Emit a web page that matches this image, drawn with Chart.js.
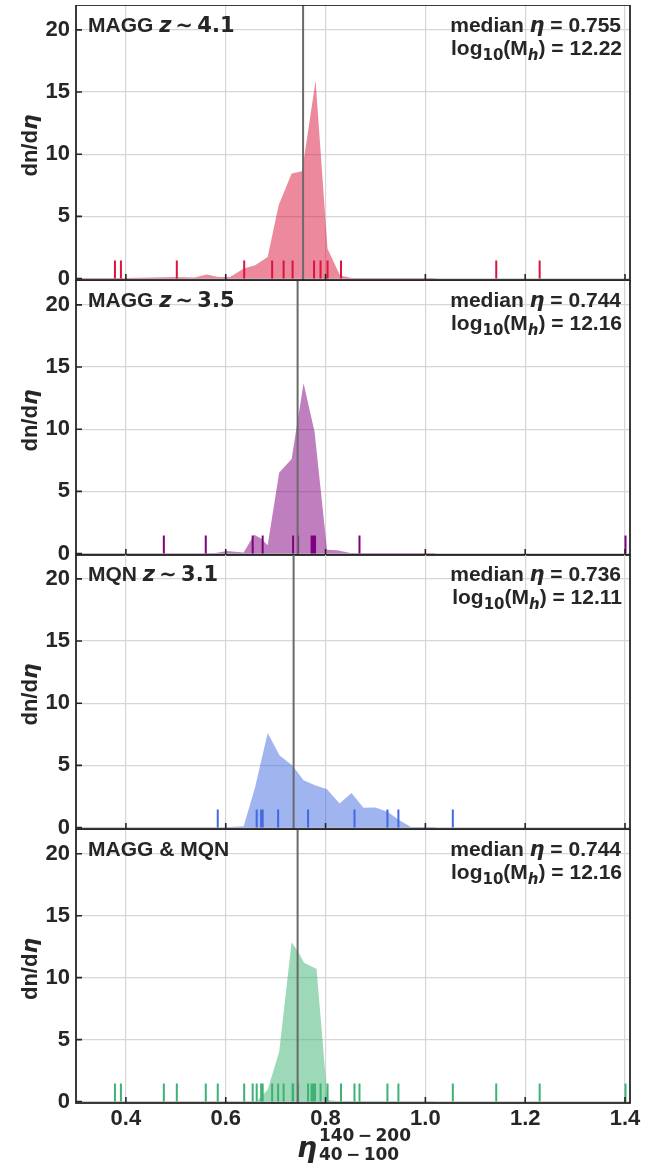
<!DOCTYPE html>
<html>
<head>
<meta charset="utf-8">
<script src="https://cdn.jsdelivr.net/npm/chart.js@4.4.0/dist/chart.umd.min.js"></script>
<style>
  body { margin: 0; background: #fff; }
  #wrap { position: relative; width: 658px; height: 1167px; }
  canvas { position: absolute; left: 0; }
</style>
</head>
<body>
<div id="wrap">
  <canvas id="p0" width="658" height="290" style="top:5px"></canvas>
  <canvas id="p1" width="658" height="290" style="top:280px"></canvas>
  <canvas id="p2" width="658" height="290" style="top:554px"></canvas>
  <canvas id="p3" width="658" height="338" style="top:829px"></canvas>
</div>
<script>
// axes
const xTicks = [0.4, 0.6, 0.8, 1.0, 1.2, 1.4];
const yTicks = [0, 5, 10, 15, 20];
const xMin = 0.3, xMax = 1.41, yMin = -0.12, yMax = 22;
const rugHeight = 1.45;

// panel labels
const sampleNames = ['MAGG', 'MAGG', 'MQN', 'MAGG & MQN'];
const redshifts = ['4.1', '3.5', '3.1', null];
const medians = [0.755, 0.744, 0.736, 0.744];
const haloMasses = ['12.22', '12.16', '12.11', '12.16'];

// density curves
const kdeMaggHiX = [0.30, 0.40, 0.45, 0.50, 0.538, 0.562, 0.585, 0.609, 0.636, 0.659, 0.684, 0.706, 0.732, 0.753, 0.780, 0.804, 0.829, 0.853, 1.02, 1.021];
const kdeMaggHiY = [0.05, 0.05, 0.08, 0.12, 0.08, 0.32, 0.13, 0.13, 0.8, 1.07, 1.74, 5.9, 8.44, 8.63, 15.9, 2.4, 0.25, 0.05, 0.05, 0];
const kdeMaggLoX = [0.30, 0.55, 0.58, 0.602, 0.636, 0.657, 0.671, 0.684, 0.707, 0.732, 0.756, 0.778, 0.803, 0.823, 0.85, 1.02, 1.021];
const kdeMaggLoY = [0.02, 0.02, 0.05, 0.2, 0.08, 1.5, 1.2, 0.67, 6.5, 7.6, 13.7, 9.8, 0.3, 0.27, 0.05, 0.05, 0];
const kdeMqnX = [0.30, 0.60, 0.636, 0.659, 0.684, 0.708, 0.733, 0.756, 0.780, 0.803, 0.828, 0.852, 0.876, 0.900, 0.924, 0.948, 0.971, 1.02, 1.021];
const kdeMqnY = [0.02, 0.03, 0.1, 3.26, 7.6, 5.8, 5.0, 3.8, 3.37, 3.07, 1.93, 2.78, 1.58, 1.6, 1.26, 0.59, 0.05, 0.05, 0];
const kdeAllX = [0.30, 0.60, 0.662, 0.684, 0.707, 0.732, 0.745, 0.757, 0.782, 0.804, 0.823, 1.02, 1.021];
const kdeAllY = [0.02, 0.03, 0.02, 0.94, 4.0, 12.85, 12.1, 11.2, 10.7, 0.12, 0.05, 0.03, 0];

// individual eta values (rug)
const rugMaggHi = [0.378, 0.390, 0.502, 0.637, 0.693, 0.716, 0.734, 0.777, 0.790, 0.804, 0.831, 1.142, 1.229];
const rugMaggLo = [0.476, 0.560, 0.654, 0.674, 0.735, 0.745, 0.772, 0.774, 0.776, 0.779, 0.868, 1.401];
const rugMqn = [0.584, 0.662, 0.671, 0.674, 0.705, 0.765, 0.858, 0.924, 0.946, 1.055];
const rugAll = rugMaggHi.concat(rugMaggLo, rugMqn);

const kdeX = [kdeMaggHiX, kdeMaggLoX, kdeMqnX, kdeAllX];
const kdeY = [kdeMaggHiY, kdeMaggLoY, kdeMqnY, kdeAllY];
const rugs = [rugMaggHi, rugMaggLo, rugMqn, rugAll];

// styles
const rugColors = ['#dc143c', '#800080', '#4169e1', '#3cb371'];
const fillColors = ['rgba(220,20,60,0.5)', 'rgba(128,0,128,0.5)', 'rgba(65,105,225,0.5)', 'rgba(60,179,113,0.5)'];
const ink = '#262626';
const gridColor = '#d6d6d6';
const SANS = '"Liberation Sans", Arial, sans-serif';
const MATH = '"DejaVu Sans", sans-serif';
const fs = 21;     // annotation text
const tickFs = 22; // tick labels

function drawRuns(ctx, runs, x, y, align) {
  let total = 0;
  runs.forEach(r => { ctx.font = r.font; r.w = ctx.measureText(r.text).width; total += r.w; });
  let cx = align === 'right' ? x - total : align === 'center' ? x - total / 2 : x;
  ctx.textBaseline = 'alphabetic';
  ctx.textAlign = 'left';
  runs.forEach(r => {
    ctx.font = r.font;
    ctx.fillText(r.text, cx, y + (r.dy || 0));
    cx += r.w;
  });
}

const decor = {
  id: 'decor',
  afterDraw(chart, args, opts) {
    const ctx = chart.ctx;
    const a = chart.chartArea;
    const xs = chart.scales.x, ys = chart.scales.y;
    const i = opts.panel;
    ctx.save();
    // inward tick marks
    ctx.strokeStyle = ink;
    ctx.lineWidth = 1.6;
    ctx.beginPath();
    xTicks.forEach(v => {
      const px = xs.getPixelForValue(v);
      ctx.moveTo(px, a.bottom); ctx.lineTo(px, a.bottom - 6);
    });
    yTicks.forEach(v => {
      const py = ys.getPixelForValue(v);
      ctx.moveTo(a.left, py); ctx.lineTo(a.left + 6, py);
    });
    ctx.stroke();
    // frame
    ctx.lineWidth = 1.8;
    ctx.strokeRect(a.left, a.top, a.right - a.left, a.bottom - a.top);

    ctx.fillStyle = ink;
    const tf = 'bold ' + fs + 'px ' + SANS;
    const mf = 'bold ' + fs + 'px ' + MATH;
    const mi = 'italic bold ' + fs + 'px ' + MATH;
    const small = 'bold 15px ' + MATH;
    const smallIt = 'italic bold 15px ' + MATH;
    // sample label
    const left = [{ text: sampleNames[i] + (redshifts[i] ? ' ' : ''), font: tf }];
    if (redshifts[i]) {
      left.push({ text: 'z', font: mi }, { text: '\u2009\u223c\u2009', font: mf }, { text: redshifts[i], font: mf });
    }
    drawRuns(ctx, left, a.left + 12, a.top + 27, 'left');
    // median / halo mass
    drawRuns(ctx, [
      { text: 'median ', font: tf }, { text: '\u03b7', font: mi },
      { text: ' = ' + medians[i].toFixed(3), font: tf }
    ], a.right - 9, a.top + 27, 'right');
    drawRuns(ctx, [
      { text: 'log', font: tf }, { text: '10', font: small, dy: 5 },
      { text: '(M', font: tf }, { text: 'h', font: smallIt, dy: 5 },
      { text: ') = ' + haloMasses[i], font: tf }
    ], a.right - 8, a.top + 50, 'right');
    // y title
    ctx.save();
    ctx.translate(29, (a.top + a.bottom) / 2 + 3);
    ctx.rotate(-Math.PI / 2);
    const yf = 'bold ' + tickFs + 'px ' + SANS;
    const yi = 'italic bold ' + tickFs + 'px ' + MATH;
    drawRuns(ctx, [{ text: 'dn/d', font: yf }, { text: '\u03b7', font: yi }], 0, 8, 'center');
    ctx.restore();
    // x title on the last panel
    if (opts.bottom) {
      const cx = (a.left + a.right) / 2;
      const big = 'italic bold 28px ' + MATH;
      const scr = 'bold 17px ' + MATH;
      ctx.font = big; const we = ctx.measureText('\u03b7').width;
      ctx.font = scr;
      const sup = '140\u2009\u2212\u2009200', sub = '40\u2009\u2212\u2009100';
      const ws = Math.max(ctx.measureText(sup).width, ctx.measureText(sub).width);
      const x0 = cx - (we + ws) / 2;
      const base = a.bottom + 54;
      ctx.font = big; ctx.textAlign = 'left'; ctx.fillText('\u03b7', x0, base);
      ctx.font = scr;
      ctx.fillText(sup, x0 + we + 2, base - 16);
      ctx.fillText(sub, x0 + we + 2, base + 3);
    }
    ctx.restore();
  }
};

function makePanel(i, bottom) {
  const datasets = [
    {
      data: [{ x: medians[i], y: yMin }, { x: medians[i], y: yMax }],
      borderColor: '#6a6a6a', borderWidth: 2, pointRadius: 0, fill: false
    },
    {
      data: rugs[i].flatMap(v => [{ x: v, y: 0 }, { x: v, y: rugHeight }, { x: v, y: null }]),
      borderColor: rugColors[i], borderWidth: 2, pointRadius: 0, spanGaps: false, fill: false
    },
    {
      data: kdeX[i].map((x, k) => ({ x: x, y: kdeY[i][k] })),
      borderColor: 'rgba(0,0,0,0)', borderWidth: 0, pointRadius: 0,
      backgroundColor: fillColors[i], fill: 'origin'
    }
  ];
  new Chart(document.getElementById('p' + i), {
    type: 'line',
    data: { datasets: datasets },
    plugins: [decor],
    options: {
      responsive: false,
      animation: false,
      layout: { padding: { left: 0, right: 28, top: 0, bottom: bottom ? 0 : 15 } },
      plugins: { legend: { display: false }, tooltip: { enabled: false }, decor: { panel: i, bottom: bottom } },
      scales: {
        x: {
          type: 'linear', min: xMin, max: xMax,
          afterBuildTicks: s => { s.ticks = xTicks.map(v => ({ value: v })); },
          afterFit: s => { s.height = bottom ? 64 : 0; s.paddingLeft = 0; s.paddingRight = 0; },
          grid: { color: gridColor, lineWidth: 1.2, drawTicks: false },
          border: { display: false },
          ticks: {
            display: bottom, autoSkip: false, maxRotation: 0, padding: 3, color: ink,
            font: { family: SANS, size: tickFs, weight: 'bold' },
            callback: v => v.toFixed(1)
          }
        },
        y: {
          type: 'linear', min: yMin, max: yMax,
          afterBuildTicks: s => { s.ticks = yTicks.map(v => ({ value: v })); },
          afterFit: s => { s.width = 76; s.paddingTop = 0; s.paddingBottom = 0; },
          grid: { color: gridColor, lineWidth: 1.2, drawTicks: false },
          border: { display: false },
          ticks: {
            padding: 6, color: ink,
            font: { family: SANS, size: tickFs, weight: 'bold' }
          }
        }
      }
    }
  });
}

makePanel(0, false);
makePanel(1, false);
makePanel(2, false);
makePanel(3, true);
</script>
</body>
</html>
